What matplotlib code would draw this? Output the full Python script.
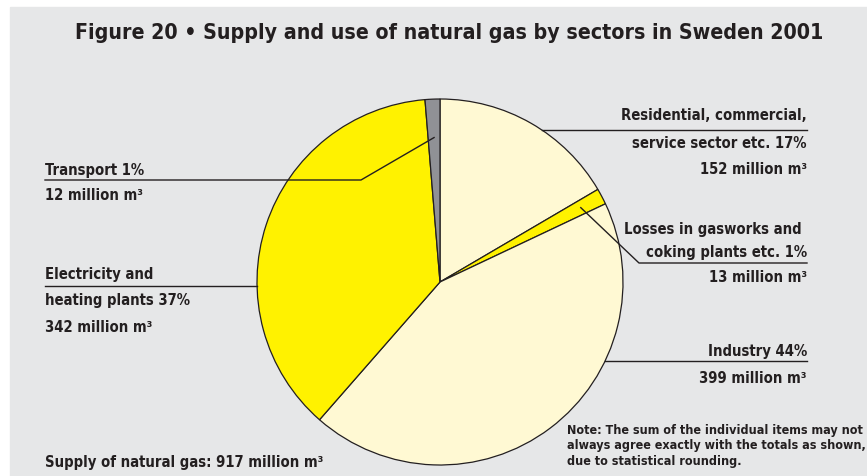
import matplotlib.pyplot as plt
import numpy as np
from matplotlib.patches import Rectangle

# data (million m3), clockwise from 12 o'clock
sectors = ['Residential', 'Losses', 'Industry', 'Electricity', 'Transport']
volumes = [152, 13, 399, 342, 12]
colors = ['#fff9d3', '#fff200', '#fff9d3', '#fff200', '#909196']
supply = 917

W, H = 867, 477
bg = '#e6e7e8'
ink = '#231f20'
plt.rcParams['font.family'] = ['DejaVu Sans']
plt.rcParams['font.stretch'] = 'condensed'

fig = plt.figure(figsize=(W / 100, H / 100), dpi=100)
ax = fig.add_axes([0, 0, 1, 1])
ax.add_patch(Rectangle((10, 0), W - 10, H - 8, color=bg, zorder=0))

cx, cy, r = 440, H - 283, 183
wedges, _ = ax.pie(volumes, colors=colors, startangle=90, counterclock=False,
                   center=(cx, cy), radius=r, frame=True,
                   wedgeprops=dict(edgecolor=ink, linewidth=0.9))
ax.set_xlim(0, W)
ax.set_ylim(0, H)
ax.set_aspect('equal')
ax.axis('off')


def mid(i, frac):
    w = wedges[i]
    a = np.deg2rad((w.theta1 + w.theta2) / 2)
    return cx + frac * r * np.cos(a), cy + frac * r * np.sin(a)


def edge_x(y, side):
    return cx + side * np.sqrt(r ** 2 - (y - cy) ** 2)


lk = dict(color=ink, lw=1.0, zorder=5)
tk = dict(color=ink, fontsize=10.6, fontweight='bold')

# residential
y = H - 131
ax.plot([edge_x(y, 1), 807], [y, y], **lk)
ax.text(807, H - 116, 'Residential, commercial,', ha='right', va='center', **tk)
ax.text(807, H - 144, 'service sector etc. 17%', ha='right', va='center', **tk)
ax.text(807, H - 170, '152 million m\u00b3', ha='right', va='center', **tk)

# losses
x0, y0 = mid(1, 0.87)
y = H - 264
ax.plot([x0, 639, 807], [y0, y, y], **lk)
ax.text(802, H - 230, 'Losses in gasworks and', ha='right', va='center', **tk)
ax.text(807, H - 252, 'coking plants etc. 1%', ha='right', va='center', **tk)
ax.text(807, H - 278, '13 million m\u00b3', ha='right', va='center', **tk)

# industry
y = H - 362
ax.plot([edge_x(y, 1), 807], [y, y], **lk)
ax.text(807, H - 352, 'Industry 44%', ha='right', va='center', **tk)
ax.text(807, H - 379, '399 million m\u00b3', ha='right', va='center', **tk)

# transport
x0, y0 = mid(4, 0.79)
y = H - 181
ax.plot([x0, 361, 45], [y0, y, y], **lk)
ax.text(45, H - 171, 'Transport 1%', ha='left', va='center', **tk)
ax.text(45, H - 196, '12 million m\u00b3', ha='left', va='center', **tk)

# electricity
y = H - 287
ax.plot([edge_x(y, -1), 45], [y, y], **lk)
ax.text(45, H - 274, 'Electricity and', ha='left', va='center', **tk)
ax.text(45, H - 301, 'heating plants 37%', ha='left', va='center', **tk)
ax.text(45, H - 327, '342 million m\u00b3', ha='left', va='center', **tk)

ax.text(449, H - 33, 'Figure 20 \u2022 Supply and use of natural gas by sectors in Sweden 2001',
        ha='center', va='center', color=ink, fontsize=15.3, fontweight='bold')
ax.text(45, H - 463, 'Supply of natural gas: %d million m\u00b3' % supply,
        ha='left', va='center', **tk)
ax.text(567, H - 446, 'Note: The sum of the individual items may not\n'
        'always agree exactly with the totals as shown,\n'
        'due to statistical rounding.', ha='left', va='center',
        color=ink, fontsize=9, fontweight='bold', linespacing=1.25)

fig.savefig('out.png', dpi=100, facecolor='white')
